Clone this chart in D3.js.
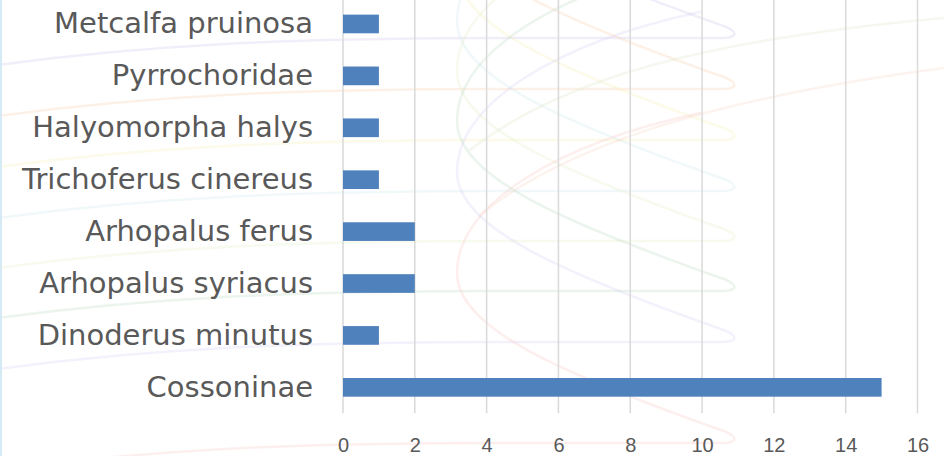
<!DOCTYPE html>
<html>
<head>
<meta charset="utf-8">
<script src="https://cdn.jsdelivr.net/npm/d3@7/dist/d3.min.js"></script>
<style>
  html, body { margin: 0; padding: 0; background: #ffffff; }
  svg { display: block; }
</style>
</head>
<body>
<svg id="chart" width="944" height="456"></svg>
<script>
// Species counts (top to bottom as listed)
const categories = [
  "Metcalfa pruinosa",
  "Pyrrochoridae",
  "Halyomorpha halys",
  "Trichoferus cinereus",
  "Arhopalus ferus",
  "Arhopalus syriacus",
  "Dinoderus minutus",
  "Cossoninae"
];
const counts = [1, 1, 1, 1, 2, 2, 1, 15];
const tickValues = [0, 2, 4, 6, 8, 10, 12, 14, 16];

const W = 944, H = 456;
const plot = { left: 343, right: 917.5, top: -2, bottom: 413.3 };

const svg = d3.select("#chart");

// Soft decorative background swirls
const deco = svg.append("g").attr("fill", "none").attr("stroke-width", 2.5).attr("stroke-linecap", "round");
const swirlTips = [
  { y: 38,  c: "#cfc6ee" },
  { y: 89,  c: "#f9cfae" },
  { y: 140, c: "#f6eeb6" },
  { y: 191, c: "#cfe9ef" },
  { y: 241, c: "#e6eec6" },
  { y: 291, c: "#bcd9c4" },
  { y: 342, c: "#d8d2f2" },
  { y: 443, c: "#f7c9c6" }
];
swirlTips.forEach(s => {
  const y0 = s.y;
  const p = d3.path();
  p.moveTo(-10, y0 + 28);
  p.bezierCurveTo(150, y0 + 6, 300, y0, 500, y0);
  p.lineTo(722, y0);
  p.bezierCurveTo(740, y0, 738, y0 - 8, 718, y0 - 14);
  p.bezierCurveTo(560, y0 - 70, 457, y0 - 115, 457, y0 - 170);
  p.bezierCurveTo(457, y0 - 240, 560, y0 - 300, 700, y0 - 330);
  deco.append("path").attr("d", p.toString()).attr("stroke", s.c).attr("opacity", 0.3);
});
// long sweeping arcs to the right
deco.append("path").attr("d", "M470,150 C560,80 700,40 944,18").attr("stroke", "#dfead0").attr("opacity", 0.35);
deco.append("path").attr("d", "M480,215 C560,150 700,100 944,68").attr("stroke", "#f9d6c8").attr("opacity", 0.3);
// thin left edge
svg.append("rect").attr("x", 0).attr("y", 0).attr("width", 2).attr("height", H).attr("fill", "#d6eaf6");

// Scales
const x = d3.scaleLinear().domain([0, 16]).range([plot.left, plot.right]);
const y = d3.scaleBand().domain(categories)
  .range([plot.top, plot.bottom])
  .paddingInner(0.64).paddingOuter(0.32);

// Vertical gridlines
svg.append("g")
  .selectAll("line")
  .data(tickValues)
  .join("line")
  .attr("x1", d => x(d)).attr("x2", d => x(d))
  .attr("y1", plot.top).attr("y2", plot.bottom)
  .attr("stroke", "#d9d9d9").attr("stroke-width", 1.5);

// Bars
svg.append("g")
  .selectAll("rect")
  .data(categories.map((c, i) => ({ c, v: counts[i] })))
  .join("rect")
  .attr("x", x(0))
  .attr("y", d => y(d.c))
  .attr("width", d => x(d.v) - x(0))
  .attr("height", y.bandwidth())
  .attr("fill", "#4f81bd");

// Category axis labels
const yAxis = d3.axisLeft(y).tickSize(0).tickPadding(30);
const gy = svg.append("g").attr("transform", `translate(${plot.left},0)`).call(yAxis);
gy.select(".domain").remove();
gy.selectAll("text")
  .attr("font-family", "'DejaVu Sans', Verdana, sans-serif")
  .attr("font-size", 29)
  .attr("fill", "#595959");

// Value axis labels
const xAxis = d3.axisBottom(x).tickValues(tickValues).tickSize(0).tickPadding(0);
const gx = svg.append("g").attr("transform", "translate(0,437.8)").call(xAxis);
gx.select(".domain").remove();
gx.selectAll("text")
  .attr("font-family", "'Liberation Sans', Arial, sans-serif")
  .attr("font-size", 20)
  .attr("fill", "#595959");
</script>
</body>
</html>
